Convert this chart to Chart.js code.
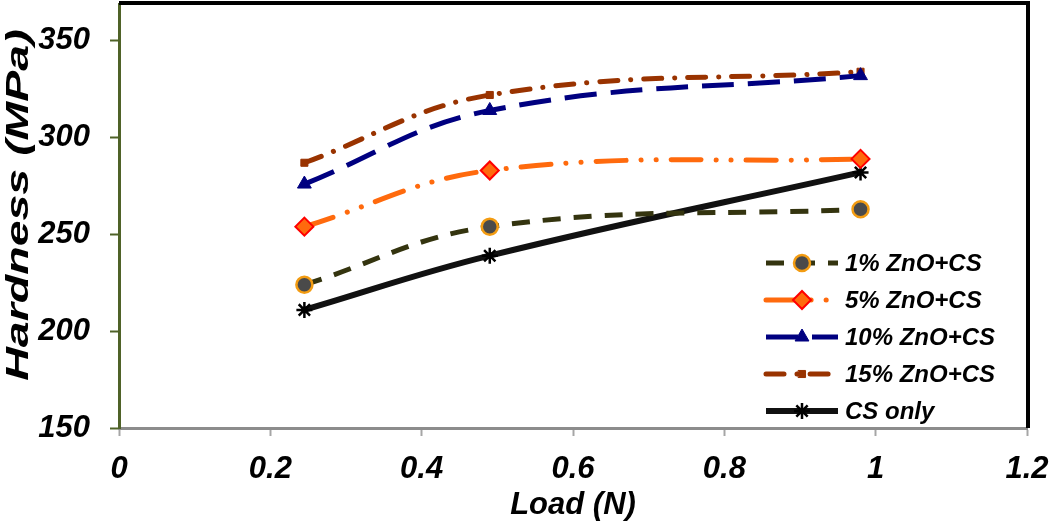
<!DOCTYPE html>
<html>
<head>
<meta charset="utf-8">
<script src="https://cdn.jsdelivr.net/npm/chart.js@4.4.1/dist/chart.umd.min.js"></script>
<style>
  html, body { margin: 0; padding: 0; background: #fff; }
  #wrap { width: 1050px; height: 524px; position: relative; }
</style>
</head>
<body>
<div id="wrap"><canvas id="hardnessChart"></canvas></div>
<script>
// Hardness vs load
const loads = [0.245, 0.49, 0.98];
const zno1 = [224, 254, 263];
const zno5 = [254, 283, 289];
const zno10 = [276, 314, 332];
const zno15 = [287, 322, 334];
const csOnly = [211, 239, 282];
const seriesNames = ['1% ZnO+CS', '5% ZnO+CS', '10% ZnO+CS', '15% ZnO+CS', 'CS only'];
const xTicks = [0, 0.2, 0.4, 0.6, 0.8, 1, 1.2];
const yTicks = [150, 200, 250, 300, 350];

const FONT = "'Liberation Sans', Arial, sans-serif";

const toPoints = vals => vals.map((v, i) => ({ x: loads[i], y: v }));

// Legend drawn by hand so the dash patterns show up like in the original
const sideLegend = {
    id: 'sideLegend',
    afterDatasetsDraw(chart) {
        const ctx = chart.ctx;
        const area = chart.chartArea;
        chart.data.datasets.forEach((ds, i) => {
            const y = area.bottom - 165 + i * 37;
            const x0 = area.right - 261;
            const x1 = area.right - 189;
            ctx.save();
            ctx.strokeStyle = ds.borderColor;
            ctx.lineWidth = ds.borderWidth;
            ctx.lineCap = ds.borderCapStyle || 'butt';
            ctx.setLineDash(ds.borderDash || []);
            ctx.beginPath();
            ctx.moveTo(x0, y);
            ctx.lineTo(x1, y);
            ctx.stroke();
            ctx.setLineDash([]);
            ctx.fillStyle = ds.pointBackgroundColor;
            ctx.strokeStyle = ds.pointBorderColor;
            ctx.lineWidth = ds.pointBorderWidth;
            Chart.helpers.drawPoint(ctx, {
                pointStyle: ds.pointStyle,
                radius: ds.pointRadius,
                borderWidth: ds.pointBorderWidth,
                rotation: 0
            }, (x0 + x1) / 2, y);
            ctx.fillStyle = '#000';
            ctx.font = "italic bold 24px " + FONT;
            ctx.textAlign = 'left';
            ctx.textBaseline = 'middle';
            ctx.fillText(ds.label, area.right - 182, y + 1);
            ctx.restore();
        });
    },
    afterDraw(chart) {
        const ctx = chart.ctx;
        const area = chart.chartArea;
        ctx.save();
        // top and right frame
        ctx.strokeStyle = '#000';
        ctx.lineWidth = 4;
        ctx.beginPath();
        ctx.moveTo(area.left, area.top - 1);
        ctx.lineTo(area.right + 1, area.top - 1);
        ctx.lineTo(area.right + 1, area.bottom);
        ctx.stroke();
        // y title, stretched along its length like the source
        ctx.translate(19, 205);
        ctx.rotate(-Math.PI / 2);
        ctx.scale(1.5, 1);
        ctx.fillStyle = '#000';
        ctx.font = "italic bold 31px " + FONT;
        ctx.textAlign = 'center';
        ctx.textBaseline = 'middle';
        ctx.fillText('Hardness (MPa)', 0, 0);
        ctx.restore();
    }
};

const canvas = document.getElementById('hardnessChart');
new Chart(canvas.getContext('2d'), {
    type: 'line',
    data: {
        datasets: [
            {
                label: seriesNames[0],
                data: toPoints(zno1),
                borderColor: '#34340f',
                borderWidth: 5,
                borderDash: [18, 13],
                pointStyle: 'circle',
                pointRadius: 8,
                pointBorderWidth: 2.5,
                pointBackgroundColor: '#4a4a4a',
                pointBorderColor: '#f39c12'
            },
            {
                label: seriesNames[1],
                data: toPoints(zno5),
                borderColor: '#ff6a0d',
                borderWidth: 5,
                borderCapStyle: 'round',
                borderDash: [30, 15, 0.1, 15, 0.1, 15],
                pointStyle: 'rectRot',
                pointRadius: 9,
                pointBorderWidth: 2,
                pointBackgroundColor: '#ff6a0d',
                pointBorderColor: '#ff0000'
            },
            {
                label: seriesNames[2],
                data: toPoints(zno10),
                borderColor: '#000080',
                borderWidth: 5,
                borderDash: [32, 14],
                pointStyle: 'triangle',
                pointRadius: 8,
                pointBorderWidth: 1,
                pointBackgroundColor: '#000080',
                pointBorderColor: '#000080'
            },
            {
                label: seriesNames[3],
                data: toPoints(zno15),
                borderColor: '#993300',
                borderWidth: 5,
                borderCapStyle: 'round',
                borderDash: [18, 13, 0.1, 13],
                pointStyle: 'rect',
                pointRadius: 5,
                pointBorderWidth: 1,
                pointBackgroundColor: '#993300',
                pointBorderColor: '#993300'
            },
            {
                label: seriesNames[4],
                data: toPoints(csOnly),
                borderColor: '#111111',
                borderWidth: 6,
                pointStyle: 'star',
                pointRadius: 8,
                pointBorderWidth: 2.5,
                pointBackgroundColor: '#000',
                pointBorderColor: '#000'
            }
        ]
    },
    options: {
        responsive: true,
        maintainAspectRatio: false,
        animation: false,
        layout: { autoPadding: false, padding: { top: 4, right: 23, left: 0, bottom: 0 } },
        elements: { line: { tension: 0.4 } },
        plugins: {
            legend: { display: false },
            tooltip: { enabled: false }
        },
        scales: {
            x: {
                type: 'linear',
                min: 0,
                max: 1.2,
                afterBuildTicks: scale => { scale.ticks = xTicks.map(v => ({ value: v })); },
                afterFit: scale => {
                    scale.height = 96;
                    scale.paddingLeft = 0;
                    scale.paddingRight = 0;
                },
                ticks: {
                    color: '#000',
                    padding: 15,
                    font: { family: FONT, size: 31, weight: 'bold', style: 'italic' },
                    callback: v => String(parseFloat(v.toFixed(1)))
                },
                grid: { drawOnChartArea: false, tickLength: 8, tickColor: '#a6a6a6', tickWidth: 2 },
                border: { color: '#8c8c8c', width: 3 },
                title: {
                    display: true,
                    text: 'Load (N)',
                    color: '#000',
                    padding: { top: 0, bottom: 0 },
                    font: { family: FONT, size: 31, weight: 'bold', style: 'italic' }
                }
            },
            y: {
                min: 150,
                max: 369,
                afterBuildTicks: scale => { scale.ticks = yTicks.map(v => ({ value: v })); },
                afterFit: scale => {
                    scale.width = 119;
                    scale.paddingTop = 0;
                    scale.paddingBottom = 0;
                },
                ticks: {
                    color: '#000',
                    padding: 20,
                    font: { family: FONT, size: 31, weight: 'bold', style: 'italic' }
                },
                grid: { drawOnChartArea: false, tickLength: 9, tickColor: '#4f6228', tickWidth: 2 },
                border: { color: '#4f6228', width: 3 }
            }
        }
    },
    plugins: [sideLegend]
});
</script>
</body>
</html>
